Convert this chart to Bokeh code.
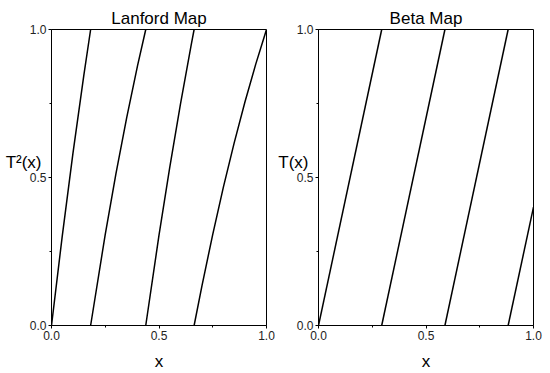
from bokeh.plotting import figure
from bokeh.layouts import row
from bokeh.models import FixedTicker, PrintfTickFormatter, Range1d, LinearAxis
from bokeh.embed import file_html
from bokeh.resources import INLINE

# ---- data ----
titles = ["Lanford Map", "Beta Map"]
ylabels = ["T\u00b2(x)", "T(x)"]
ylabel_pos = 0.552
tick_vals = [0.0, 0.5, 1.0]
minor_vals = [0.25, 0.75]

lanford_x1 = [0.0, 0.05, 0.10, 0.15, 0.182]
lanford_y1 = [0.0, 0.302, 0.583, 0.843, 1.0]
lanford_x2 = [0.182, 0.25, 0.30, 0.35, 0.40, 0.4384]
lanford_y2 = [0.0, 0.308, 0.514, 0.703, 0.877, 1.0]
lanford_x3 = [0.4384, 0.50, 0.55, 0.60, 0.65, 0.6633]
lanford_y3 = [0.0, 0.305, 0.534, 0.749, 0.949, 1.0]
lanford_x4 = [0.6633, 0.70, 0.75, 0.80, 0.85, 0.90, 0.95, 1.0]
lanford_y4 = [0.0, 0.135, 0.308, 0.469, 0.618, 0.756, 0.883, 1.0]

beta_x = [[0.0, 0.294], [0.294, 0.588], [0.588, 0.882], [0.882, 1.0]]
beta_y = [[0.0, 1.0], [0.0, 1.0], [0.0, 1.0], [0.0, 0.4]]

FONT = "Liberation Sans"


def make_panel(title, ylabel, left, right):
    p = figure(width=275, height=373, output_backend="svg", toolbar_location=None,
               x_range=Range1d(0, 1), y_range=Range1d(0, 1),
               min_border_left=left, min_border_right=right,
               min_border_top=29, min_border_bottom=48)
    p.title.text = title
    p.title.align = "center"
    p.title.text_font = FONT
    p.title.text_font_size = "17px"
    p.title.text_font_style = "normal"
    p.title.text_color = "#000000"
    p.title.standoff = 3
    p.title.offset = 0
    p.grid.visible = False
    p.outline_line_color = "#000000"
    p.outline_line_alpha = 1.0
    p.outline_line_width = 1
    for ax in (p.xaxis[0], p.yaxis[0]):
        ax.ticker = FixedTicker(ticks=tick_vals, minor_ticks=minor_vals)
        ax.formatter = PrintfTickFormatter(format="%.1f")
        ax.major_label_text_font = FONT
        ax.major_label_text_font_size = "12px"
        ax.major_label_text_color = "#222222"
        ax.axis_line_color = "#000000"
        ax.major_tick_line_color = "#000000"
        ax.minor_tick_line_color = "#000000"
        ax.major_tick_out = 3
        ax.major_tick_in = 0
        ax.minor_tick_out = 2
        ax.minor_tick_in = 0
        ax.major_label_standoff = 2
    p.xaxis.axis_label = "x"
    p.xaxis.axis_label_text_font = FONT
    p.xaxis.axis_label_text_font_size = "17px"
    p.xaxis.axis_label_text_font_style = "normal"
    p.xaxis.axis_label_text_color = "#000000"
    p.xaxis.axis_label_standoff = 9

    # horizontal y-axis label placed just above the 0.5 tick label
    lab = LinearAxis(ticker=FixedTicker(ticks=[ylabel_pos]),
                     major_label_overrides={ylabel_pos: ylabel},
                     axis_line_color=None, major_tick_line_color=None,
                     minor_tick_line_color=None, major_tick_out=0, major_tick_in=0,
                     major_label_standoff=-15,
                     major_label_text_font=FONT, major_label_text_font_size="17px",
                     major_label_text_color="#000000")
    p.add_layout(lab, "left")
    return p


p1 = make_panel(titles[0], ylabels[0], 51, 9)
for xs, ys in ((lanford_x1, lanford_y1), (lanford_x2, lanford_y2),
               (lanford_x3, lanford_y3), (lanford_x4, lanford_y4)):
    p1.line(xs, ys, line_color="#000000", line_width=1.5)

p2 = make_panel(titles[1], ylabels[1], 43, 17)
p2.multi_line(beta_x, beta_y, line_color="#000000", line_width=1.5)

layout = row(p1, p2)
open("out.html", "w").write(file_html(layout, INLINE))
